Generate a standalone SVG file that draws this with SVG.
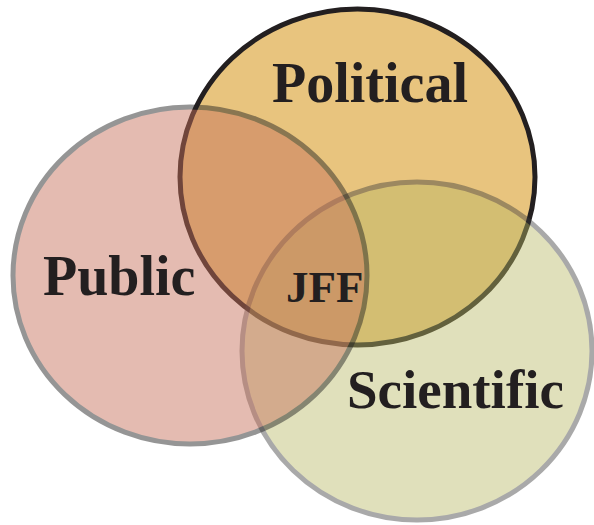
<svg xmlns="http://www.w3.org/2000/svg" width="594" height="525" viewBox="0 0 594 525">
<style>
.lbl{font-family:"Liberation Serif","Times New Roman",serif;font-weight:bold;fill:#231f20;}
</style>
<rect width="594" height="525" fill="#ffffff"/>
<g id="political">
<ellipse cx="357.5" cy="177" rx="177.5" ry="168" fill="#e8c47e" stroke="#231f20" stroke-width="5"/>
</g>
<g id="scientific" opacity="0.43">
<ellipse cx="417" cy="351" rx="175" ry="169" fill="#b8b864" stroke="#3a3a3a" stroke-width="5"/>
</g>
<g id="public" opacity="0.47">
<ellipse cx="190" cy="275.5" rx="177" ry="168.5" fill="#c6715b" stroke="#202020" stroke-width="5"/>
</g>
<g id="labels">
<text class="lbl" x="272" y="102" font-size="56">Political</text>
<text class="lbl" x="43" y="295" font-size="56">Public</text>
<text class="lbl" x="347" y="408" font-size="55">Scientific</text>
<text class="lbl" x="286" y="302" font-size="45">JFF</text>
</g>
</svg>
